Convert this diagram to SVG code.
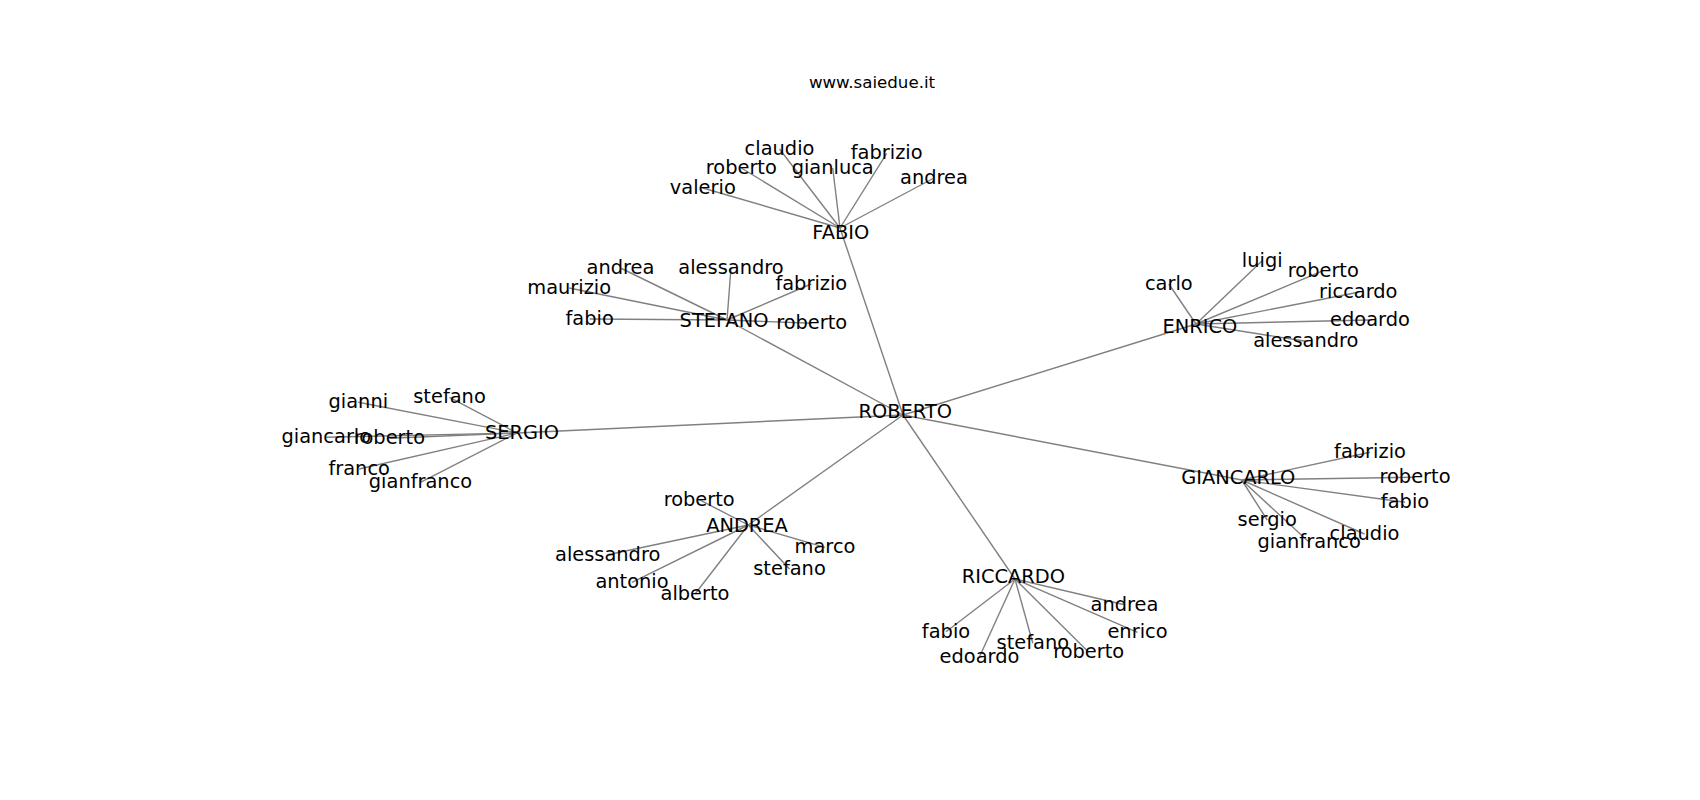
<svg xmlns="http://www.w3.org/2000/svg" width="1700" height="800" viewBox="0 0 1700 800">
<style>
.e{stroke:#808080;stroke-width:1.4;fill:none}
.l{font-family:"DejaVu Sans",Verdana,sans-serif;font-size:19.4px;text-anchor:middle;fill:#000}
.t{font-family:"DejaVu Sans",Verdana,sans-serif;font-size:16.67px;text-anchor:middle;fill:#000}
</style>
<rect width="1700" height="800" fill="#fff"/>
<text class="t" x="872" y="88">www.saiedue.it</text>
<g id="edges">
<line class="e" x1="903" y1="415" x2="840" y2="228"/>
<line class="e" x1="903" y1="415" x2="727" y2="320"/>
<line class="e" x1="903" y1="415" x2="1196" y2="324"/>
<line class="e" x1="903" y1="415" x2="517" y2="433"/>
<line class="e" x1="903" y1="415" x2="1241.7" y2="480"/>
<line class="e" x1="903" y1="415" x2="748.3" y2="525"/>
<line class="e" x1="903" y1="415" x2="1015" y2="579"/>
<line class="e" x1="840" y1="228" x2="779.5" y2="149"/>
<line class="e" x1="840" y1="228" x2="741.3" y2="168"/>
<line class="e" x1="840" y1="228" x2="832.7" y2="168"/>
<line class="e" x1="840" y1="228" x2="886.7" y2="153.3"/>
<line class="e" x1="840" y1="228" x2="934" y2="178"/>
<line class="e" x1="840" y1="228" x2="702.8" y2="188"/>
<line class="e" x1="727" y1="320" x2="620.5" y2="268"/>
<line class="e" x1="727" y1="320" x2="731" y2="268"/>
<line class="e" x1="727" y1="320" x2="811.3" y2="284"/>
<line class="e" x1="727" y1="320" x2="569.2" y2="288"/>
<line class="e" x1="727" y1="320" x2="589.7" y2="319"/>
<line class="e" x1="727" y1="320" x2="811.7" y2="323.3"/>
<line class="e" x1="1196" y1="324" x2="1262.2" y2="260.7"/>
<line class="e" x1="1196" y1="324" x2="1323.3" y2="270.7"/>
<line class="e" x1="1196" y1="324" x2="1168.8" y2="284"/>
<line class="e" x1="1196" y1="324" x2="1358.3" y2="292.3"/>
<line class="e" x1="1196" y1="324" x2="1370" y2="320"/>
<line class="e" x1="1196" y1="324" x2="1305.8" y2="341.3"/>
<line class="e" x1="517" y1="433" x2="358.3" y2="402.3"/>
<line class="e" x1="517" y1="433" x2="449.5" y2="397.3"/>
<line class="e" x1="517" y1="433" x2="326.3" y2="437.3"/>
<line class="e" x1="517" y1="433" x2="389.5" y2="438.3"/>
<line class="e" x1="517" y1="433" x2="359.2" y2="469"/>
<line class="e" x1="517" y1="433" x2="420.5" y2="482.3"/>
<line class="e" x1="1241.7" y1="480" x2="1370" y2="452.3"/>
<line class="e" x1="1241.7" y1="480" x2="1415" y2="477.3"/>
<line class="e" x1="1241.7" y1="480" x2="1405" y2="502.3"/>
<line class="e" x1="1241.7" y1="480" x2="1267.2" y2="520"/>
<line class="e" x1="1241.7" y1="480" x2="1364.5" y2="534"/>
<line class="e" x1="1241.7" y1="480" x2="1309.2" y2="542.3"/>
<line class="e" x1="748.3" y1="525" x2="699.2" y2="499.7"/>
<line class="e" x1="748.3" y1="525" x2="825" y2="547.3"/>
<line class="e" x1="748.3" y1="525" x2="607.7" y2="554.7"/>
<line class="e" x1="748.3" y1="525" x2="789.5" y2="569"/>
<line class="e" x1="748.3" y1="525" x2="632" y2="582.3"/>
<line class="e" x1="748.3" y1="525" x2="695" y2="594"/>
<line class="e" x1="1015" y1="579" x2="1124.5" y2="604.7"/>
<line class="e" x1="1015" y1="579" x2="946" y2="631.7"/>
<line class="e" x1="1015" y1="579" x2="1137.5" y2="632.3"/>
<line class="e" x1="1015" y1="579" x2="1032.8" y2="643.3"/>
<line class="e" x1="1015" y1="579" x2="1088.7" y2="652.3"/>
<line class="e" x1="1015" y1="579" x2="979.5" y2="656.7"/>
</g>
<g id="n-roberto"><text class="l" x="905.3" y="417.7">ROBERTO</text></g>
<g id="n-fabio"><text class="l" x="840.8" y="239.3">FABIO</text></g>
<g id="n-fabio-claudio"><text class="l" x="779.5" y="155">claudio</text></g>
<g id="n-fabio-roberto"><text class="l" x="741.3" y="174">roberto</text></g>
<g id="n-fabio-gianluca"><text class="l" x="832.7" y="174">gianluca</text></g>
<g id="n-fabio-fabrizio"><text class="l" x="886.7" y="159.3">fabrizio</text></g>
<g id="n-fabio-andrea"><text class="l" x="934" y="184">andrea</text></g>
<g id="n-fabio-valerio"><text class="l" x="702.8" y="194">valerio</text></g>
<g id="n-stefano"><text class="l" x="724" y="327.3">STEFANO</text></g>
<g id="n-stefano-andrea"><text class="l" x="620.5" y="274">andrea</text></g>
<g id="n-stefano-alessandro"><text class="l" x="731" y="274">alessandro</text></g>
<g id="n-stefano-fabrizio"><text class="l" x="811.3" y="290">fabrizio</text></g>
<g id="n-stefano-maurizio"><text class="l" x="569.2" y="294">maurizio</text></g>
<g id="n-stefano-fabio"><text class="l" x="589.7" y="325">fabio</text></g>
<g id="n-stefano-roberto"><text class="l" x="811.7" y="329.3">roberto</text></g>
<g id="n-enrico"><text class="l" x="1200" y="332.7">ENRICO</text></g>
<g id="n-enrico-luigi"><text class="l" x="1262.2" y="266.7">luigi</text></g>
<g id="n-enrico-roberto"><text class="l" x="1323.3" y="276.7">roberto</text></g>
<g id="n-enrico-carlo"><text class="l" x="1168.8" y="290">carlo</text></g>
<g id="n-enrico-riccardo"><text class="l" x="1358.3" y="298.3">riccardo</text></g>
<g id="n-enrico-edoardo"><text class="l" x="1370" y="326">edoardo</text></g>
<g id="n-enrico-alessandro"><text class="l" x="1305.8" y="347.3">alessandro</text></g>
<g id="n-sergio"><text class="l" x="522" y="439.3">SERGIO</text></g>
<g id="n-sergio-gianni"><text class="l" x="358.3" y="408.3">gianni</text></g>
<g id="n-sergio-stefano"><text class="l" x="449.5" y="403.3">stefano</text></g>
<g id="n-sergio-giancarlo"><text class="l" x="326.3" y="443.3">giancarlo</text></g>
<g id="n-sergio-roberto"><text class="l" x="389.5" y="444.3">roberto</text></g>
<g id="n-sergio-franco"><text class="l" x="359.2" y="475">franco</text></g>
<g id="n-sergio-gianfranco"><text class="l" x="420.5" y="488.3">gianfranco</text></g>
<g id="n-giancarlo"><text class="l" x="1238.3" y="484">GIANCARLO</text></g>
<g id="n-giancarlo-fabrizio"><text class="l" x="1370" y="458.3">fabrizio</text></g>
<g id="n-giancarlo-roberto"><text class="l" x="1415" y="483.3">roberto</text></g>
<g id="n-giancarlo-fabio"><text class="l" x="1405" y="508.3">fabio</text></g>
<g id="n-giancarlo-sergio"><text class="l" x="1267.2" y="526">sergio</text></g>
<g id="n-giancarlo-claudio"><text class="l" x="1364.5" y="540">claudio</text></g>
<g id="n-giancarlo-gianfranco"><text class="l" x="1309.2" y="548.3">gianfranco</text></g>
<g id="n-andrea"><text class="l" x="747" y="531.7">ANDREA</text></g>
<g id="n-andrea-roberto"><text class="l" x="699.2" y="505.7">roberto</text></g>
<g id="n-andrea-marco"><text class="l" x="825" y="553.3">marco</text></g>
<g id="n-andrea-alessandro"><text class="l" x="607.7" y="560.7">alessandro</text></g>
<g id="n-andrea-stefano"><text class="l" x="789.5" y="575">stefano</text></g>
<g id="n-andrea-antonio"><text class="l" x="632" y="588.3">antonio</text></g>
<g id="n-andrea-alberto"><text class="l" x="695" y="600">alberto</text></g>
<g id="n-riccardo"><text class="l" x="1013.3" y="583.3">RICCARDO</text></g>
<g id="n-riccardo-andrea"><text class="l" x="1124.5" y="610.7">andrea</text></g>
<g id="n-riccardo-fabio"><text class="l" x="946" y="637.7">fabio</text></g>
<g id="n-riccardo-enrico"><text class="l" x="1137.5" y="638.3">enrico</text></g>
<g id="n-riccardo-stefano"><text class="l" x="1032.8" y="649.3">stefano</text></g>
<g id="n-riccardo-roberto"><text class="l" x="1088.7" y="658.3">roberto</text></g>
<g id="n-riccardo-edoardo"><text class="l" x="979.5" y="662.7">edoardo</text></g>
</svg>
